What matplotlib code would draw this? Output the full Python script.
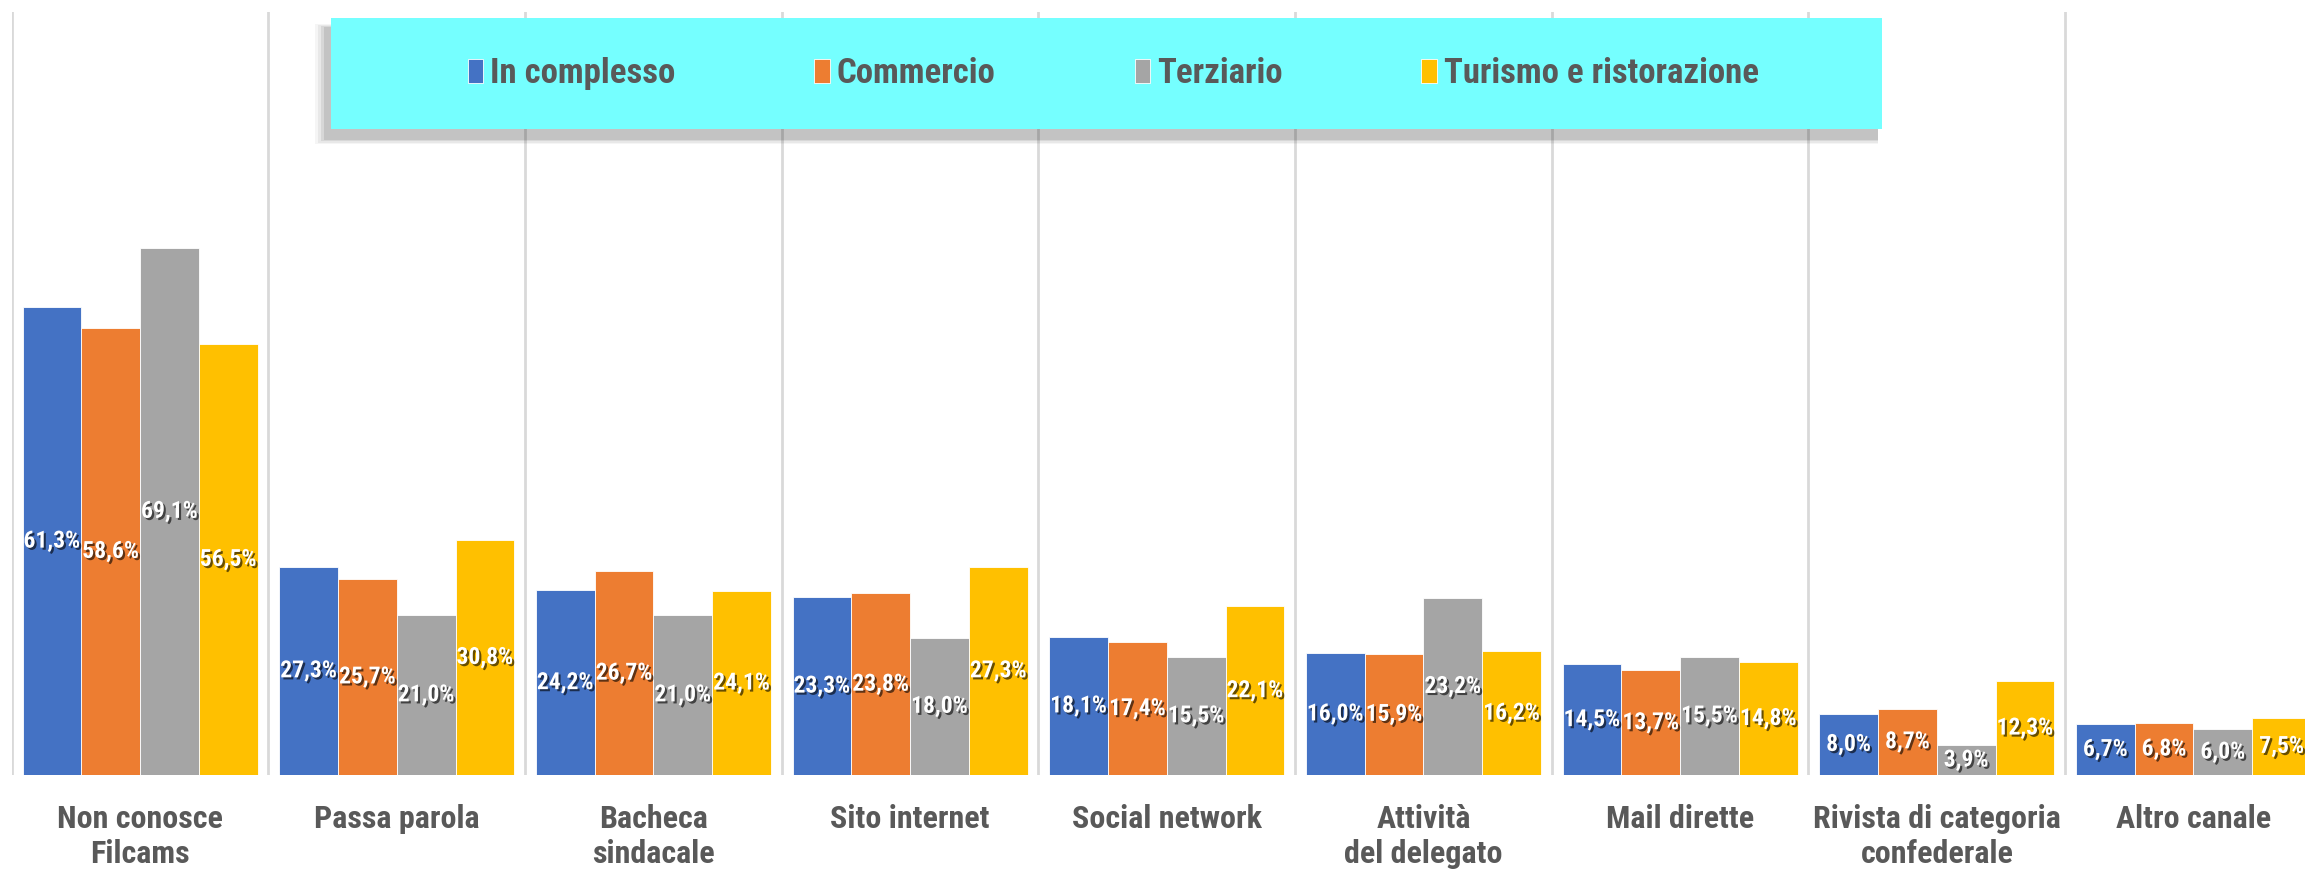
import numpy as np
import matplotlib
matplotlib.use('Agg')
import matplotlib.pyplot as plt
import matplotlib.patheffects as pe
from matplotlib import font_manager as fm
from matplotlib.patches import Rectangle

# Data
categories = ['Non conosce\nFilcams', 'Passa parola', 'Bacheca\nsindacale', 'Sito internet',
              'Social network', 'Attività\ndel delegato', 'Mail dirette',
              'Rivista di categoria\nconfederale', 'Altro canale']
series_names = ['In complesso', 'Commercio', 'Terziario', 'Turismo e ristorazione']
in_complesso = [61.3, 27.3, 24.2, 23.3, 18.1, 16.0, 14.5, 8.0, 6.7]
commercio = [58.6, 25.7, 26.7, 23.8, 17.4, 15.9, 13.7, 8.7, 6.8]
terziario = [69.1, 21.0, 21.0, 18.0, 15.5, 23.2, 15.5, 3.9, 6.0]
turismo = [56.5, 30.8, 24.1, 27.3, 22.1, 16.2, 14.8, 12.3, 7.5]
colors = ['#4472C4', '#ED7D31', '#A5A5A5', '#FFC000']

# pick a narrow font if there is one
names = {f.name for f in fm.fontManager.ttflist}
font = 'DejaVu Sans'
for cand in ['Roboto Condensed', 'Liberation Sans Narrow', 'DejaVu Sans Condensed', 'Open Sans Condensed']:
    if cand in names:
        font = cand
        break
plt.rcParams['font.family'] = [font, 'DejaVu Sans']
plt.rcParams['font.stretch'] = 'condensed'

fig = plt.figure(figsize=(23.05, 8.69), dpi=100)
ax = fig.add_axes([0.0051, 0.1082, 1.0022, 0.878])

x = np.arange(len(categories))
w = 0.229
all_series = [in_complesso, commercio, terziario, turismo]
handles = []
for i, (vals, col, name) in enumerate(zip(all_series, colors, series_names)):
    bars = ax.bar(x + (i - 1.5) * w, vals, w, color=col, edgecolor='white', linewidth=0.6, label=name, zorder=2)
    handles.append(bars)
    for b, v in zip(bars, vals):
        ax.text(b.get_x() + b.get_width() / 2, v / 2, f'{v:.1f}%'.replace('.', ','),
                ha='center', va='center', color='white', fontsize=17, fontweight='bold',
                path_effects=[pe.withSimplePatchShadow(offset=(1.5, -1.5), shadow_rgbFace='black', alpha=0.6)],
                zorder=3)

ax.set_xlim(-0.5, len(categories) - 0.5)
ax.set_ylim(0, 100)
ax.set_xticks(x)
ax.set_xticklabels(categories, fontsize=23, fontweight='bold', color='#595959', linespacing=1.2)
ax.set_xticks(np.arange(-0.5, len(categories), 1), minor=True)
ax.tick_params(axis='x', which='both', length=0, pad=21)
ax.set_yticks([])
ax.grid(True, axis='x', which='minor', color='#D9D9D9', linewidth=2)
ax.grid(False, axis='x', which='major')
for s in ax.spines.values():
    s.set_visible(False)

# legend box with soft shadow
lx, ly, lw, lh = 0.1436, 0.8516, 0.673, 0.1277
for k, a in enumerate([0.04, 0.05, 0.07, 0.09]):
    off = 0.0012 * (4 - k)
    fig.patches.append(Rectangle((lx - 0.002 - off, ly - 0.012 - off), lw + off, lh + 2 * off,
                                 transform=fig.transFigure, facecolor='black', alpha=a,
                                 edgecolor='none', zorder=4))
fig.patches.append(Rectangle((lx, ly), lw, lh, transform=fig.transFigure,
                             facecolor='#75FFFF', edgecolor='none', zorder=5))
leg = fig.legend(handles=handles, loc='center', bbox_to_anchor=(0.483, ly + lh / 2), ncol=4,
                 frameon=False, handlelength=0.45, handleheight=0.7,
                 handletextpad=0.2, columnspacing=4.0,
                 prop={'weight': 'bold', 'size': 25})
leg.set_zorder(6)
for t in leg.get_texts():
    t.set_color('#595959')

fig.savefig('out.png', dpi=100)
